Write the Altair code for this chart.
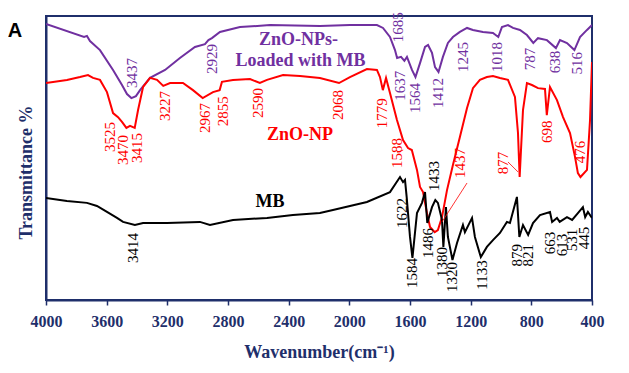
import altair as alt
import pandas as pd

# ---- spectra (wavenumber cm-1, transmittance a.u.) ----
zl_w = [4000, 3749, 3730, 3710, 3644, 3558, 3499, 3466, 3437, 3407, 3380, 3314, 3215, 3117, 3018, 2952, 2929, 2906,
        2853, 2721, 2523, 2194, 1996, 1818, 1778, 1732, 1699, 1685, 1659, 1637, 1620, 1587, 1564, 1534, 1501, 1481,
        1455, 1435, 1412, 1383, 1350, 1317, 1271, 1224, 1185, 1119, 1053, 1018, 994, 954, 921, 875, 829, 787, 756,
        697, 638, 611, 565, 516, 479, 433, 400]
zl_t = [97.2, 92.6, 93.0, 91.2, 88.0, 81.0, 75.7, 72.5, 71.1, 71.8, 73.9, 78.2, 81.0, 85.2, 89.1, 90.1, 91.5, 92.2,
        94.4, 96.1, 96.8, 96.5, 96.8, 96.8, 95.8, 92.6, 88.0, 85.2, 85.6, 84.2, 85.6, 81.0, 78.5, 83.4, 89.1, 89.8,
        87.0, 82.0, 80.3, 85.6, 90.5, 92.6, 94.4, 95.8, 95.1, 94.4, 94.0, 92.6, 96.1, 96.8, 95.8, 95.1, 93.3, 90.5, 92.2,
        91.5, 88.7, 91.5, 90.5, 88.0, 92.6, 95.1, 96.8]

zn_w = [4000, 3862, 3776, 3723, 3690, 3644, 3598, 3558, 3525, 3499, 3470, 3446, 3415, 3393, 3360, 3314, 3268, 3227,
        3182, 3097, 3031, 2967, 2899, 2855, 2840, 2767, 2655, 2590, 2543, 2437, 2325, 2194, 2068, 1996, 1884, 1818,
        1798, 1779, 1758, 1732, 1686, 1646, 1613, 1588, 1554, 1534, 1514, 1488, 1468, 1437, 1416, 1389, 1356, 1317,
        1271, 1224, 1185, 1139, 1093, 1053, 1007, 954, 908, 888, 877, 855, 829, 796, 756, 710, 698, 677, 631, 591,
        545, 512, 493, 476, 433, 413, 400]
zn_t = [76.4, 77.5, 78.5, 79.2, 78.2, 77.5, 73.2, 65.8, 64.4, 62.7, 60.6, 61.3, 60.6, 66.9, 75.0, 78.2, 77.5, 75.4,
        76.4, 76.4, 73.9, 71.1, 73.2, 73.9, 76.8, 77.5, 77.8, 76.4, 77.5, 79.2, 78.9, 78.2, 76.4, 78.5, 81.3, 81.0,
        78.5, 73.9, 78.2, 72.9, 63.4, 56.3, 53.5, 52.8, 45.8, 39.8, 38.0, 30.6, 25.7, 23.9, 24.6, 29.2, 38.7, 47.5,
        57.4, 67.6, 74.6, 77.5, 78.5, 78.9, 78.2, 77.5, 71.5, 58.8, 43.3, 66.9, 76.4, 75.7, 74.6, 74.3, 65.1, 75.0,
        70.4, 64.4, 58.8, 50.4, 44.7, 43.3, 45.8, 63.4, 83.8]

mb_w = [4000, 3862, 3730, 3664, 3598, 3532, 3492, 3414, 3360, 3202, 2985, 2919, 2767, 2543, 2372, 2194, 2108, 1884,
        1732, 1666, 1646, 1633, 1622, 1600, 1584, 1554, 1521, 1501, 1486, 1455, 1433, 1416, 1389, 1380, 1363, 1350,
        1320, 1290, 1251, 1238, 1191, 1172, 1133, 1093, 1053, 1007, 961, 941, 895, 879, 855, 821, 789, 743, 677, 663,
        631, 613, 565, 531, 493, 460, 445, 427, 400]
mb_t = [35.9, 34.9, 34.2, 33.1, 31.0, 28.9, 27.5, 26.4, 27.1, 27.1, 27.5, 26.4, 28.2, 28.9, 29.9, 30.6, 31.7, 34.5,
        38.0, 43.3, 41.5, 42.3, 36.3, 22.2, 14.8, 30.6, 34.2, 38.0, 27.1, 32.7, 35.2, 34.2, 28.2, 18.7, 32.7, 22.2,
        14.1, 20.1, 26.4, 23.9, 28.9, 22.2, 15.1, 18.7, 21.1, 23.6, 27.5, 27.1, 36.3, 22.2, 26.4, 22.9, 27.1, 29.9,
        31.0, 27.5, 28.9, 27.5, 29.2, 28.2, 30.6, 32.7, 29.2, 31.0, 28.9]

series_names = ["ZnO-NPs-Loaded with MB", "ZnO-NP", "MB"]
series_colors = ["#7030A0", "#FF0000", "#000000"]

# ---- peak annotations: text, wavenumber, transmittance ----
zl_lab = ["3437", "2929", "1685", "1637", "1564", "1412", "1245", "1018", "787", "638", "516"]
zl_lw = [3433, 2906, 1679, 1666, 1567, 1416, 1251, 1027, 809, 644, 499]
zl_lt = [79.9, 84.9, 96.0, 75.4, 71.1, 72.9, 85.6, 85.6, 84.9, 83.8, 83.4]

zn_lab = ["3525", "3470", "3415", "3227", "2967", "2855", "2590", "2068", "1779", "1588", "1437", "877", "698", "476"]
zn_lw = [3578, 3492, 3400, 3215, 2952, 2833, 2602, 2075, 1785, 1686, 1271, 987, 697, 479]
zn_lt = [57.4, 52.8, 53.5, 68.3, 64.1, 66.5, 69.4, 68.7, 65.8, 51.8, 48.2, 48.2, 59.2, 52.1]

mb_lab = ["3414", "1622", "1584", "1486", "1433", "1380", "1320", "1133", "879", "821", "663", "613", "531", "445"]
mb_lw = [3426, 1653, 1587, 1482, 1442, 1389, 1323, 1125, 895, 822, 677, 598, 532, 453]
mb_lt = [18.3, 30.6, 9.5, 20.1, 43.7, 13.4, 8.1, 8.8, 15.8, 15.8, 20.1, 19.4, 21.1, 21.8]

# series names drawn on the chart
name_text = ["ZnO-NPs-", "Loaded with MB", "ZnO-NP", "MB"]
name_w = [2335, 2322, 2325, 2523]
name_t = [91.5, 84.0, 58.1, 34.5]
name_series = ["ZnO-NPs-Loaded with MB", "ZnO-NPs-Loaded with MB", "ZnO-NP", "MB"]

# leader lines (red)
lead_w1 = [1686, 1224, 954]
lead_t1 = [52.0, 41.2, 48.6]
lead_w2 = [1645, 1389, 888]
lead_t2 = [52.8, 27.5, 45.1]

NAVY = "#1F2F6B"
SERIF = "Liberation Serif"

rows = []
for name, ws, ts in zip(series_names, [zl_w, zn_w, mb_w], [zl_t, zn_t, mb_t]):
    for i, (w, t) in enumerate(zip(ws, ts)):
        rows.append({"series": name, "w": w, "t": t, "i": i})
spec = pd.DataFrame(rows)

lrows = []
for name, labs, ws, ts in zip(series_names, [zl_lab, zn_lab, mb_lab], [zl_lw, zn_lw, mb_lw], [zl_lt, zn_lt, mb_lt]):
    for lab, w, t in zip(labs, ws, ts):
        lrows.append({"series": name, "lab": lab, "w": w, "t": t})
labels = pd.DataFrame(lrows)

names = pd.DataFrame({"lab": name_text, "w": name_w, "t": name_t, "series": name_series})
leads = pd.DataFrame({"w": lead_w1, "t": lead_t1, "w2": lead_w2, "t2": lead_t2})

xscale = alt.Scale(domain=[400, 4000], reverse=True, nice=False, zero=False)
yscale = alt.Scale(domain=[0, 100], nice=False, zero=False)
cscale = alt.Scale(domain=series_names, range=series_colors)

x_ax = alt.Axis(
    values=list(range(400, 4001, 200)),
    labelExpr="datum.value % 400 == 0 ? datum.value : ''",
    title="Wavenumber(cm⁻¹)",
    titleFont=SERIF, titleFontSize=18, titleFontWeight="bold", titleColor=NAVY,
    titleY=43, titleBaseline="top",
    labelFont=SERIF, labelFontSize=16, labelFontWeight="bold", labelColor=NAVY,
    labelPadding=8, tickSize=5, tickColor=NAVY, tickWidth=1.5,
    domainColor=NAVY, domainWidth=2, grid=False, labelFlush=False,
)
y_ax = alt.Axis(
    title="Transmittance %", labels=False, ticks=False, grid=False,
    titleFont=SERIF, titleFontSize=18, titleFontWeight="bold", titleColor=NAVY,
    titleX=-20, titleY=156, titleBaseline="middle", titleAngle=270,
    domainColor=NAVY, domainWidth=2,
)

lines = alt.Chart(spec).mark_line(strokeWidth=2, clip=True).encode(
    x=alt.X("w:Q", scale=xscale, axis=x_ax),
    y=alt.Y("t:Q", scale=yscale, axis=y_ax),
    color=alt.Color("series:N", scale=cscale, legend=None),
    order="i:Q",
    detail="series:N",
)

peak_text = alt.Chart(labels).mark_text(
    angle=270, align="center", baseline="middle", font=SERIF, fontSize=15
).encode(
    x=alt.X("w:Q", scale=xscale),
    y=alt.Y("t:Q", scale=yscale),
    text="lab:N",
    color=alt.Color("series:N", scale=cscale, legend=None),
)

name_marks = alt.Chart(names).mark_text(
    align="center", baseline="middle", font=SERIF, fontSize=18, fontWeight="bold"
).encode(
    x=alt.X("w:Q", scale=xscale),
    y=alt.Y("t:Q", scale=yscale),
    text="lab:N",
    color=alt.Color("series:N", scale=cscale, legend=None),
)

leader = alt.Chart(leads).mark_rule(color="#FF0000", strokeWidth=0.8).encode(
    x=alt.X("w:Q", scale=xscale), y=alt.Y("t:Q", scale=yscale),
    x2="w2:Q", y2="t2:Q",
)

panel = alt.Chart(pd.DataFrame({"lab": ["A"]})).mark_text(
    align="center", baseline="middle", font="Liberation Sans", fontSize=20, fontWeight="bold", color="black"
).encode(x=alt.value(-31), y=alt.value(15), text="lab:N")

chart = alt.layer(lines, leader, peak_text, name_marks, panel).properties(
    width=546, height=284,
    autosize=alt.AutoSizeParams(type="none"),
    padding={"left": 38, "top": 8, "right": 25, "bottom": 70},
).configure_view(stroke=NAVY, strokeWidth=2)

chart.save("out.html", embed_options={"renderer": "svg", "actions": False})
